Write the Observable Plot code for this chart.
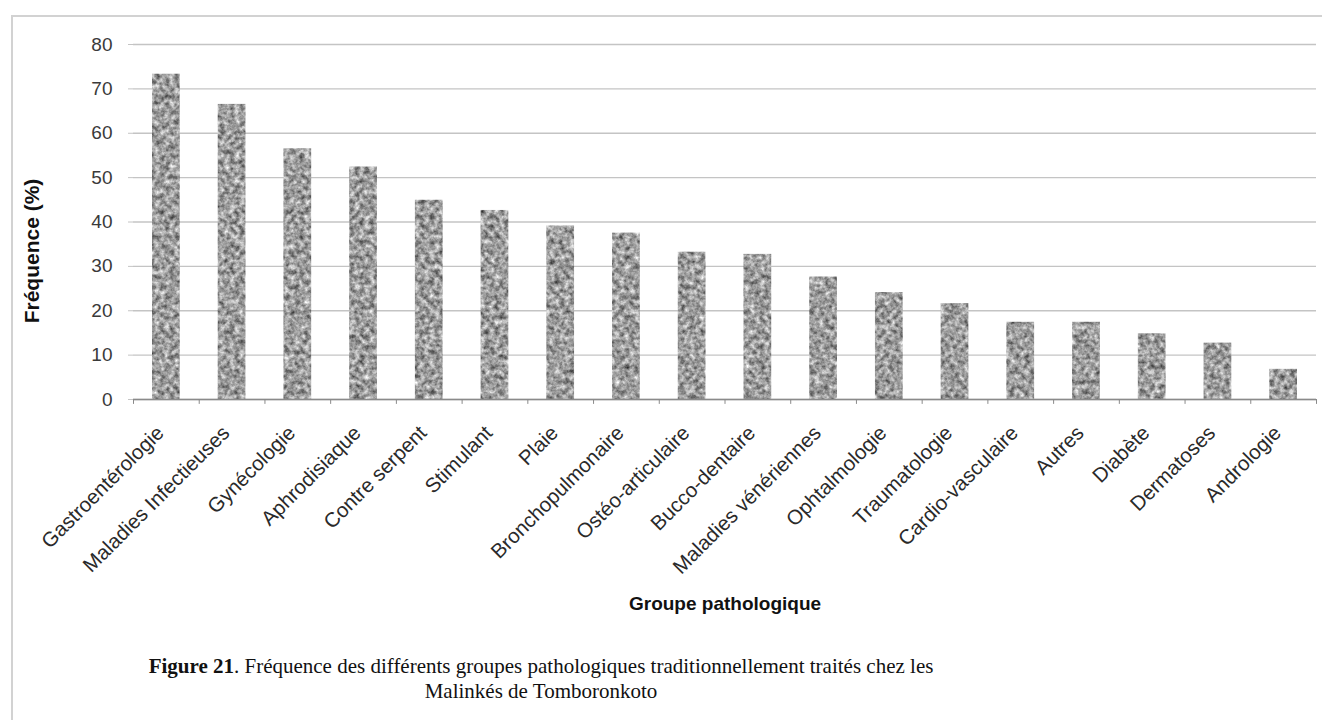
<!DOCTYPE html>
<html>
<head>
<meta charset="utf-8">
<script src="https://cdn.jsdelivr.net/npm/d3@7"></script>
<script src="https://cdn.jsdelivr.net/npm/@observablehq/plot@0.6"></script>
<style>
  html, body { margin: 0; padding: 0; background: #ffffff; }
  body { width: 1322px; height: 720px; overflow: hidden; position: relative; font-family: "Liberation Sans", Arial, sans-serif; }
  #frame { position: absolute; left: 11px; top: 15px; width: 1400px; height: 800px; border-left: 2px solid #d2d2d2; border-top: 2px solid #d2d2d2; box-sizing: border-box; }
  #chart { position: absolute; left: 0; top: 0; }
  #caption { position: absolute; left: 91px; top: 654px; width: 900px; text-align: center; font-family: "Liberation Serif", "Times New Roman", serif; font-size: 21px; line-height: 25px; color: #111; }
  #caption b { font-weight: bold; }
</style>
</head>
<body>
<div id="frame"></div>
<div id="chart"></div>
<div id="caption"><b>Figure 21</b>. Fréquence des différents groupes pathologiques traditionnellement traités chez les<br>Malinkés de Tomboronkoto</div>
<script>
const categories = [
  "Gastroentérologie", "Maladies Infectieuses", "Gynécologie", "Aphrodisiaque",
  "Contre serpent", "Stimulant", "Plaie", "Bronchopulmonaire", "Ostéo-articulaire",
  "Bucco-dentaire", "Maladies vénériennes", "Ophtalmologie", "Traumatologie",
  "Cardio-vasculaire", "Autres", "Diabète", "Dermatoses", "Andrologie"
];
const frequences = [73.3, 66.5, 56.5, 52.4, 44.9, 42.6, 39.1, 37.5, 33.2, 32.7, 27.6, 24.1, 21.6, 17.4, 17.4, 14.8, 12.7, 6.8];
const yTicks = [0, 10, 20, 30, 40, 50, 60, 70, 80];
const yTitle = "Fréquence (%)";
const xTitle = "Groupe pathologique";

const data = categories.map((c, i) => ({ groupe: c, freq: frequences[i] }));

const W = 1322, H = 640;
const mL = 133, mR = 6, mT = 44, mB = 241;
const step = (W - mL - mR) / categories.length;
const gridColor = "#c4c4c4";
const axisColor = "#8a8a8a";

const chart = Plot.plot({
  width: W,
  height: H,
  marginLeft: mL,
  marginRight: mR,
  marginTop: mT,
  marginBottom: mB,
  style: { fontFamily: "'Liberation Sans', Arial, sans-serif", background: "transparent", color: "#333" },
  x: { domain: categories, padding: 0, round: false },
  y: { domain: [0, 80] },
  marks: [
    Plot.gridY(yTicks, { stroke: gridColor, strokeOpacity: 1, strokeWidth: 1.3 }),
    Plot.barY(data, {
      x: "groupe", y: "freq", insetLeft: 19, insetRight: 19,
      fill: "#9c9c9c"
    }),
    Plot.ruleY([0], { stroke: axisColor, strokeWidth: 1.3 }),
    Plot.ruleX(categories, { x: d => d, y1: 0, y2: -1.1, dx: -step / 2, stroke: axisColor }),
    Plot.ruleX(categories.slice(-1), { x: d => d, y1: 0, y2: -1.1, dx: step / 2, stroke: axisColor }),
    Plot.axisY(yTicks, {
      tickSize: 5, tickPadding: 16, fontSize: 19, stroke: gridColor, strokeOpacity: 1,
      label: null, fill: "#3a3a3a"
    }),
    Plot.axisX({
      tickSize: 0, tickRotate: -45, tickPadding: 30, dx: -6, fontSize: 20.5, fill: "#2a2a2a",
      label: null
    }),
    Plot.text([xTitle], {
      frameAnchor: "bottom", text: d => d, textAnchor: "middle", dy: 210,
      fontSize: 19, fontWeight: "bold", fill: "#111"
    }),
    Plot.text([yTitle], {
      frameAnchor: "left", text: d => d, rotate: -90, textAnchor: "middle", dx: -101, dy: 29,
      fontSize: 21, fontWeight: "bold", fill: "#111"
    })
  ]
});

// granite-like texture for the bars (SVG noise filter clipped to each bar)
const ns = "http://www.w3.org/2000/svg";
const defs = document.createElementNS(ns, "defs");
defs.innerHTML = `
  <filter id="granite" x="0" y="0" width="1" height="1" filterUnits="objectBoundingBox" color-interpolation-filters="sRGB">
    <feTurbulence type="fractalNoise" baseFrequency="0.2" numOctaves="3" seed="7" result="noise"/>
    <feColorMatrix in="noise" type="matrix" values="0.95 0 0 0 0.14  0.95 0 0 0 0.14  0.95 0 0 0 0.14  0 0 0 0 1" result="gray"/>
    <feComposite in="gray" in2="SourceGraphic" operator="in"/>
  </filter>`;
chart.insertBefore(defs, chart.firstChild);
chart.querySelectorAll("g[aria-label='bar'] rect").forEach(r => r.setAttribute("filter", "url(#granite)"));
document.getElementById("chart").appendChild(chart);
</script>
</body>
</html>
